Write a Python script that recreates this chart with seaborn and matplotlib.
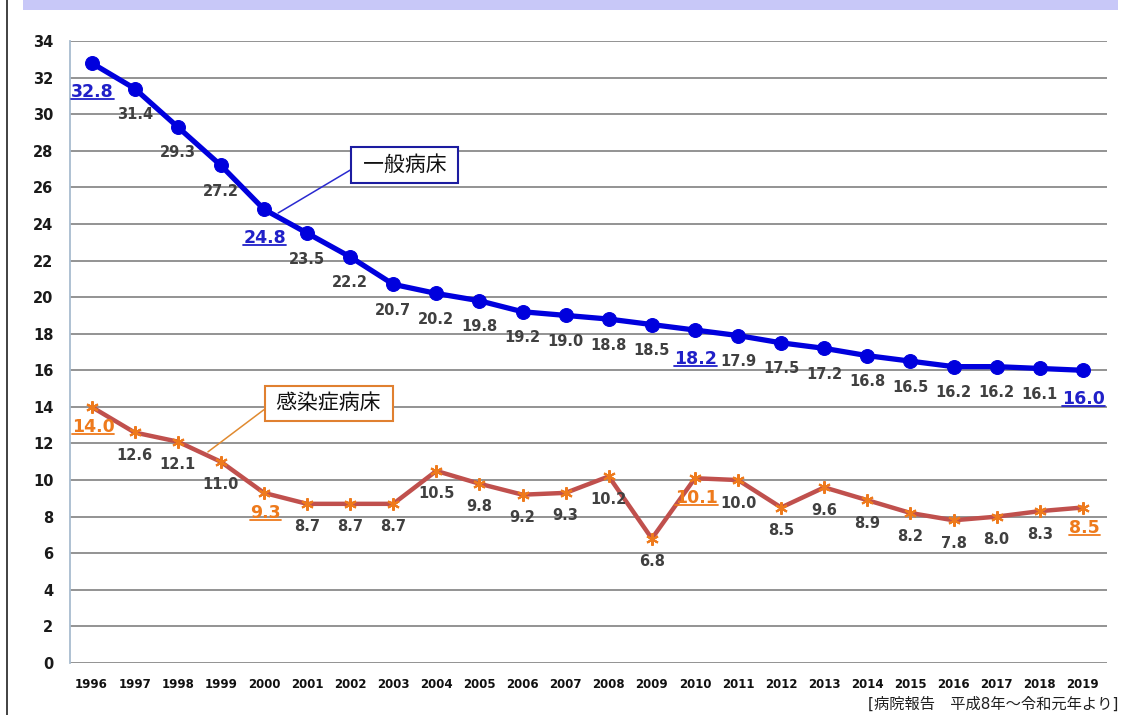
import matplotlib
matplotlib.use('Agg')
import matplotlib.pyplot as plt
import seaborn as sns
from matplotlib.lines import Line2D
from matplotlib.patches import Rectangle
from matplotlib.transforms import IdentityTransform

# ---------------- data ----------------
years = list(range(1996, 2020))
general_beds = [32.8, 31.4, 29.3, 27.2, 24.8, 23.5, 22.2, 20.7, 20.2, 19.8, 19.2, 19.0,
                18.8, 18.5, 18.2, 17.9, 17.5, 17.2, 16.8, 16.5, 16.2, 16.2, 16.1, 16.0]
infection_beds = [14.0, 12.6, 12.1, 11.0, 9.3, 8.7, 8.7, 8.7, 10.5, 9.8, 9.2, 9.3,
                  10.2, 6.8, 10.1, 10.0, 8.5, 9.6, 8.9, 8.2, 7.8, 8.0, 8.3, 8.5]
highlight_years = [1996, 2000, 2010, 2019]
yticks = list(range(0, 35, 2))
label_general = "一般病床"
label_infection = "感染症病床"
source_note = "[病院報告　平成8年～令和元年より]"

# ---------------- style ----------------
sns.set_theme(style='white')
plt.rcParams['font.family'] = ['DejaVu Sans', 'Noto Sans CJK JP']

W, H = 1124, 715
fig = plt.figure(figsize=(W / 100, H / 100), dpi=100)
fig.patch.set_facecolor('white')
ax = fig.add_axes([70 / W, 52 / H, (1107 - 70) / W, (663 - 41) / H])

blue = '#0000dd'
red = '#c0504d'
orange = '#ee7a1c'

sns.lineplot(x=years, y=general_beds, ax=ax, color=blue, lw=3.8, marker='o',
             markersize=10, markeredgecolor=blue, markerfacecolor=blue, zorder=3)
sns.lineplot(x=years, y=infection_beds, ax=ax, color=red, lw=3.2, marker=(6, 2, 0),
             markersize=9, markeredgecolor=orange, markerfacecolor=orange,
             markeredgewidth=1.5, zorder=3)

ax.set_xlim(1995.5, 2019.56)
ax.set_ylim(0, 34)
ax.set_yticks(yticks)
ax.set_xticks(years)
ax.yaxis.grid(True, color='#8a8a8a', lw=1.3)
ax.xaxis.grid(False)
ax.set_axisbelow(True)
for s in ['top', 'right', 'bottom']:
    ax.spines[s].set_visible(False)
ax.spines['left'].set_color('#a8bccf')
ax.spines['left'].set_linewidth(1.3)
ax.tick_params(axis='y', length=0, pad=12, labelsize=10.5, labelcolor='#1a1a1a')
ax.tick_params(axis='x', length=0, pad=11, labelsize=8.5, labelcolor='#111111')
for t in ax.get_yticklabels() + ax.get_xticklabels():
    t.set_fontweight('bold')
ax.set_xlabel('')
ax.set_ylabel('')

# ---------------- data labels ----------------
under = []
for yr, v in zip(years, general_beds):
    hl = yr in highlight_years
    t = ax.annotate(f"{v:.1f}", (yr, v), xytext=(0.5 if hl else 0, -21 if hl else -18.7),
                    textcoords='offset points', ha='center', va='center',
                    fontsize=12.5 if hl else 10.5, fontweight='bold',
                    color='#2020c8' if hl else '#404040', zorder=4)
    if hl:
        under.append(t)
for yr, v in zip(years, infection_beds):
    hl = yr in highlight_years
    t = ax.annotate(f"{v:.1f}", (yr, v), xytext=(1 if hl else 0, -14.5 if hl else -16.6),
                    textcoords='offset points', ha='center', va='center',
                    fontsize=12.5 if hl else 10.5, fontweight='bold',
                    color=orange if hl else '#404040', zorder=4)
    if hl:
        under.append(t)

# ---------------- callouts ----------------
ax.annotate("\u2009" + label_general + "\u2009", xy=(2000.33, 24.6), xytext=(2003.27, 27.23),
            ha='center', va='center', fontsize=15, color='#111111',
            bbox=dict(boxstyle='square,pad=0.37', fc='white', ec='#1c1ca0', lw=1.5),
            arrowprops=dict(arrowstyle='-', color='#2a2ad0', lw=1.1, relpos=(0, 0.5),
                            shrinkA=0, shrinkB=0), zorder=5)
ax.annotate("\u2009" + label_infection + "\u2009", xy=(1998.70, 11.54), xytext=(2001.5, 14.19),
            ha='center', va='center', fontsize=15, color='#111111',
            bbox=dict(boxstyle='square,pad=0.37', fc='white', ec='#e08030', lw=1.5),
            arrowprops=dict(arrowstyle='-', color='#e08a30', lw=1.1, relpos=(0, 0.5),
                            shrinkA=0, shrinkB=0), zorder=5)

# ---------------- decorations ----------------
fig.add_artist(Rectangle((23 / W, 1 - 10 / H), (1118 - 23) / W, 10 / H,
                         transform=fig.transFigure, facecolor='#c8c8f8', edgecolor='none'))
fig.add_artist(Line2D([7 / W, 7 / W], [0, 1], transform=fig.transFigure,
                      color='#333333', lw=1.3))
fig.text(1118 / W, 1 - 704 / H, source_note, ha='right', va='center',
         fontsize=11, color='#202020')

# underline highlighted labels
fig.canvas.draw()
renderer = fig.canvas.get_renderer()
for t in under:
    bb = t.get_window_extent(renderer)
    y = bb.y0 + 2
    fig.add_artist(Line2D([bb.x0, bb.x1], [y, y], transform=IdentityTransform(),
                          color=t.get_color(), lw=1.3))

fig.savefig('out.png', dpi=100)
